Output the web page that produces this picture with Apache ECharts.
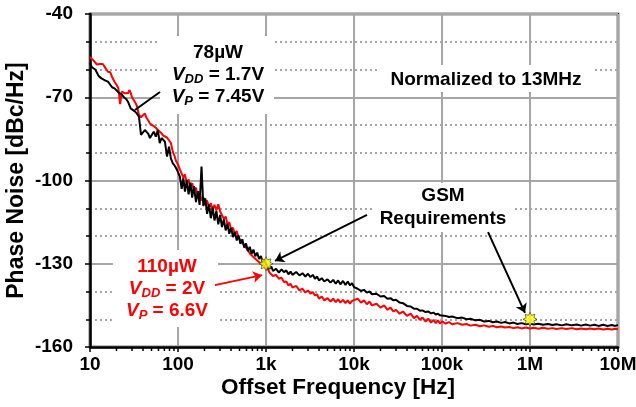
<!DOCTYPE html>
<html>
<head>
<meta charset="utf-8">
<script src="https://cdn.jsdelivr.net/npm/echarts@6/dist/echarts.min.js"></script>
<style>
  html, body { margin: 0; padding: 0; background: #fff; }
  #chart { width: 636px; height: 407px; }
</style>
</head>
<body>
<div id="chart"></div>
<script>
  // offset frequency grid [Hz], one line per decade
  var freqHz = [
    10, 10.5, 11, 11.5, 12, 12.5, 13, 13.5, 14, 15, 16, 17, 18, 19, 20, 21, 22, 23, 24, 25, 26, 27, 28, 29, 30,
    32, 34, 36, 38, 40, 42, 44, 46, 48, 50, 53, 56, 59, 62, 65, 68, 71, 75, 79, 83, 87, 91, 95,
    100, 105, 110, 115, 120, 126, 132, 138, 145, 152, 160, 168, 176, 185, 194, 204, 214, 225, 236, 248,
    260, 273, 287, 301, 316, 332, 348, 365, 383, 402, 422, 443, 465, 488, 512, 538, 565, 593, 622, 653,
    686, 720, 756, 794, 834, 875, 919, 965,
    1000, 1050, 1100, 1150, 1200, 1300, 1400, 1500, 1600, 1700, 1800, 1900, 2000, 2200, 2400, 2600, 2800,
    3000, 3200, 3400, 3600, 3800, 4000, 4300, 4600, 5000, 5400, 5800, 6200, 6600, 7000, 7500, 8000, 8500, 9000, 9500,
    10000, 11000, 12000, 13000, 14000, 15000, 16000, 18000, 20000, 22000, 24000, 26000, 28000, 30000,
    33000, 36000, 40000, 44000, 48000, 52000, 56000, 60000, 65000, 70000, 75000, 80000, 85000, 90000, 95000,
    100000, 110000, 120000, 130000, 150000, 170000, 190000, 210000, 240000, 270000, 300000, 340000, 380000,
    420000, 470000, 520000, 580000, 650000, 720000, 800000, 900000,
    1000000, 1100000, 1250000, 1400000, 1600000, 1800000, 2000000, 2300000, 2600000, 3000000, 3400000,
    3800000, 4300000, 4800000, 5400000, 6000000, 6800000, 7600000, 8500000, 9300000, 10000000
  ];

  // 110uW, VDD = 2V (red)
  var pnRed = [
    -55.5, -56.2, -56.8, -57.5, -58.2, -58.6, -58.0, -57.7, -58.0, -59.5, -60.8, -61.0, -63.0, -64.4, -65.5, -66.8, -72.5, -68.0, -67.6, -68.6, -68.8, -68.6, -67.4, -68.4, -70.0,
    -71.4, -73.0, -76.4, -77.2, -77.0, -75.8, -77.5, -78.4, -79.5, -80.2, -80.4, -81.0, -81.8, -82.3, -83.0, -83.8, -84.2, -84.5, -85.2, -86.5, -89.5, -91.0, -93.0,
    -94.2, -96.0, -95.5, -99.0, -97.8, -101.0, -99.6, -102.4, -101.0, -103.8, -102.6, -105.8, -104.0, -107.2, -106.0, -108.8, -107.2, -109.8, -108.2, -110.4,
    -108.8, -110.8, -108.6, -111.2, -110.6, -113.8, -113.0, -115.8, -115.0, -117.8, -117.0, -119.4, -118.2, -120.6, -120.8, -122.4, -122.2, -124.2, -124.6, -126.2,
    -126.0, -127.6, -127.4, -128.8, -128.6, -130.0, -129.8, -131.0,
    -131.2, -132.0, -133.2, -132.6, -134.4, -134.0, -135.4, -135.0, -136.6, -136.4, -137.8, -137.2, -138.6, -138.0, -139.6, -139.0, -140.4,
    -139.6, -140.8, -140.2, -141.4, -141.0, -142.6, -141.8, -143.2, -142.4, -143.6, -142.6, -143.8, -142.8, -144.0, -143.0, -144.2, -143.2, -144.4, -143.4,
    -144.0, -142.6, -144.0, -143.2, -144.6, -143.6, -145.0, -144.4, -145.8, -145.0, -146.6, -145.8, -147.2, -146.6,
    -148.0, -147.2, -148.8, -148.0, -149.6, -148.8, -150.2, -149.4, -150.8, -149.8, -151.2, -150.2, -151.4, -150.4, -151.6,
    -150.8, -151.6, -151.0, -151.8, -151.4, -152.0, -151.7, -152.3, -152.0, -152.5, -152.2, -152.7, -152.4,
    -152.9, -152.6, -153.0, -152.8, -153.2, -152.9, -153.3, -153.0,
    -153.3, -153.1, -153.4, -153.1, -153.4, -153.2, -153.5, -153.2, -153.5, -153.2, -153.6,
    -153.3, -153.6, -153.3, -153.6, -153.3, -153.7, -153.4, -153.7, -153.4, -153.6
  ];

  // 78uW, VDD = 1.7V (black)
  var pnBlack = [
    -57.7, -59.2, -59.4, -60.0, -61.2, -62.3, -62.8, -63.2, -63.5, -64.0, -64.4, -65.5, -66.5, -66.8, -67.4, -68.2, -68.6, -69.0, -69.8, -70.0, -70.8, -71.6, -72.8, -74.0, -74.5,
    -75.0, -75.8, -77.0, -83.6, -82.9, -81.8, -82.5, -83.2, -84.7, -84.0, -82.4, -84.2, -81.8, -86.5, -84.7, -85.4, -86.0, -91.4, -87.8, -92.0, -93.7, -94.5, -95.5,
    -97.0, -98.6, -103.0, -99.2, -104.0, -100.0, -105.0, -100.8, -106.2, -102.0, -107.8, -103.8, -108.8, -95.0, -109.2, -106.4, -112.0, -108.6, -113.6, -109.8,
    -114.4, -111.0, -115.8, -112.4, -116.8, -114.0, -118.0, -115.6, -119.2, -117.0, -120.4, -118.6, -121.6, -119.8, -122.8, -121.2, -124.2, -122.7, -125.4, -123.9,
    -126.4, -124.9, -127.3, -126.0, -128.3, -127.2, -129.5, -128.7,
    -130.3, -130.6, -131.8, -131.0, -132.6, -131.8, -133.2, -132.0, -133.0, -132.4, -133.8, -132.8, -134.0, -133.0, -134.2, -133.4, -134.6,
    -133.6, -134.8, -134.0, -135.4, -134.6, -136.0, -135.2, -136.4, -135.6, -136.8, -135.8, -137.2, -136.0, -137.4, -136.2, -137.6, -136.4, -137.8, -137.0,
    -138.4, -139.0, -139.8, -139.4, -140.4, -140.0, -141.0, -140.8, -141.8, -141.6, -142.6, -142.4, -143.2, -143.0,
    -144.0, -144.2, -145.2, -145.4, -146.2, -146.2, -146.9, -146.8, -147.4, -147.2, -147.9, -147.6, -148.3, -148.0, -148.6,
    -148.4, -148.8, -149.2, -149.0, -149.6, -149.4, -150.0, -149.8, -150.4, -150.2, -150.8, -150.6, -151.1,
    -150.8, -151.3, -151.0, -151.5, -151.2, -151.7, -151.4, -151.8,
    -151.5, -151.9, -151.6, -152.0, -151.7, -152.1, -151.8, -152.2, -151.8, -152.2, -151.9,
    -152.3, -151.9, -152.3, -152.0, -152.4, -152.0, -152.4, -152.1, -152.4, -152.1
  ];

  // GSM requirement points
  var gsmFreq = [1000, 1000000];
  var gsmPN = [-130, -150];

  var xTickLabels = ['10', '100', '1k', '10k', '100k', '1M', '10M'];

  // minor ticks 20..90 in each decade
  var minorTickFreqs = [];
  for (var d = 10; d < 1e7; d *= 10) {
    for (var k = 2; k <= 9; k++) minorTickFreqs.push(d * k);
  }

  var FONT = '"Liberation Sans", Arial, sans-serif';
  var GRIDC = '#a6a6a6';
  var starPath = 'path://M20,10 L15.54,12.3 L17.07,17.07 L12.3,15.54 L10,20 L7.7,15.54 L2.93,17.07 L4.46,12.3 L0,10 L4.46,7.7 L2.93,2.93 L7.7,4.46 L10,0 L12.3,4.46 L17.07,2.93 L15.54,7.7 Z';

  function pairs(xs, ys) {
    return xs.map(function (x, i) { return [x, ys[i]]; });
  }

  function richFor(color) {
    return {
      b: { fontSize: 19, fontWeight: 'bold', fontFamily: FONT, fill: color, lineHeight: 22 },
      i: { fontSize: 19, fontWeight: 'bold', fontStyle: 'italic', fontFamily: FONT, fill: color, lineHeight: 22 },
      s: { fontSize: 13, fontWeight: 'bold', fontStyle: 'italic', fontFamily: FONT, fill: color, lineHeight: 22, verticalAlign: 'bottom' }
    };
  }

  var chart = echarts.init(document.getElementById('chart'));
  chart.setOption({
    animation: false,
    grid: {
      left: 90, right: 18, top: 14, bottom: 60, containLabel: false, outerBoundsMode: 'none',
      show: true, borderColor: '#000', borderWidth: 2.5
    },
    xAxis: {
      type: 'log', logBase: 10, min: 10, max: 10000000,
      axisLine: { show: true, onZero: false, lineStyle: { color: '#000', width: 2.5 } },
      axisTick: { show: true, length: 5, lineStyle: { color: '#000', width: 1.5 } },
      axisLabel: {
        color: '#000', fontSize: 19, fontWeight: 'bold', fontFamily: FONT, margin: 8,
        formatter: function (v) { return xTickLabels[Math.round(Math.log10(v)) - 1]; }
      },
      splitLine: { show: true, lineStyle: { color: GRIDC, width: 2 } },
      name: 'Offset Frequency [Hz]', nameLocation: 'middle', nameGap: 29, nameMoveOverlap: false,
      nameTextStyle: { color: '#000', fontSize: 22.5, fontWeight: 'bold', fontFamily: FONT, padding: [0, 32, 0, 0] }
    },
    yAxis: {
      type: 'value', min: -160, max: -40, interval: 30,
      axisLine: { show: true, lineStyle: { color: '#000', width: 2.5 } },
      axisTick: { show: true, length: 5, lineStyle: { color: '#000', width: 1.5 } },
      minorTick: { show: true, splitNumber: 3, length: 4, lineStyle: { color: '#000', width: 1.5 } },
      axisLabel: { color: '#000', fontSize: 19, fontWeight: 'bold', fontFamily: FONT, margin: 17 },
      splitLine: { show: true, lineStyle: { color: GRIDC, width: 2 } },
      minorSplitLine: { show: true, lineStyle: { color: GRIDC, width: 2, type: [2, 3] } },
      name: 'Phase Noise [dBc/Hz]', nameLocation: 'middle', nameGap: 62, nameMoveOverlap: false,
      nameTextStyle: { color: '#000', fontSize: 23, fontWeight: 'bold', fontFamily: FONT }
    },
    graphic: [
      { type: 'rect', z: 1, shape: { x: 160, y: 36, width: 114, height: 78 }, style: { fill: '#fff' } },
      { type: 'rect', z: 1, shape: { x: 378, y: 65, width: 217, height: 27 }, style: { fill: '#fff' } },
      { type: 'rect', z: 1, shape: { x: 375, y: 183, width: 138, height: 49 }, style: { fill: '#fff' } },
      { type: 'rect', z: 1, shape: { x: 113, y: 250, width: 105, height: 77 }, style: { fill: '#fff' } },
      {
        type: 'text', z: 5, x: 218, y: 75,
        style: {
          text: '{b|78µW}\n{i|V}{s|DD}{b| = 1.7V}\n{i|V}{s|P}{b| = 7.45V}',
          align: 'center', verticalAlign: 'middle', rich: richFor('#000')
        }
      },
      {
        type: 'text', z: 5, x: 167, y: 289,
        style: {
          text: '{b|110µW}\n{i|V}{s|DD}{b| = 2V}\n{i|V}{s|P}{b| = 6.6V}',
          align: 'center', verticalAlign: 'middle', rich: richFor('#ff0000')
        }
      },
      {
        type: 'text', z: 5, x: 486, y: 80,
        style: { text: 'Normalized to 13MHz', font: 'bold 19px ' + FONT, fill: '#000', align: 'center', verticalAlign: 'middle' }
      },
      {
        type: 'text', z: 5, x: 443, y: 207,
        style: { text: 'GSM\nRequirements', font: 'bold 19px ' + FONT, lineHeight: 23, fill: '#000', align: 'center', verticalAlign: 'middle' }
      }
    ],
    series: [
      {
        name: '110µW', type: 'line', data: pairs(freqHz, pnRed), showSymbol: false, symbol: 'none',
        lineStyle: { color: '#ff0000', width: 2 }, z: 2, silent: true
      },
      {
        name: '78µW', type: 'line', data: pairs(freqHz, pnBlack), showSymbol: false, symbol: 'none',
        lineStyle: { color: '#000', width: 2 }, z: 3, silent: true
      },
      {
        type: 'custom', coordinateSystem: 'cartesian2d', clip: false, silent: true, z: 4,
        data: minorTickFreqs.map(function (f) { return [f, -160]; }),
        renderItem: function (params, api) {
          var p = api.coord([api.value(0), api.value(1)]);
          return { type: 'line', shape: { x1: p[0], y1: p[1], x2: p[0], y2: p[1] + 4 }, style: { stroke: '#000', lineWidth: 1.5 } };
        }
      },
      {
        name: 'GSM', type: 'scatter', data: pairs(gsmFreq, gsmPN), symbol: starPath, symbolSize: 14,
        itemStyle: { color: '#ffff00', borderColor: '#333', borderWidth: 0.8 }, z: 6, silent: true,
        markLine: {
          silent: true, animation: false, symbol: ['none', 'arrow'], symbolSize: 9,
          label: { show: false },
          lineStyle: { color: '#000', width: 2, type: 'solid' },
          data: [
            [{ coord: [14060, -112.4] }, { coord: [1265, -129.0] }],
            [{ coord: [333500, -118.6] }, { coord: [877000, -147.7] }],
            [{ coord: [263, -137.7], lineStyle: { color: '#ff0000' } }, { coord: [901, -134.1], itemStyle: { color: '#ff0000' } }],
            [{ coord: [32.4, -74.6], symbol: 'none' }, { coord: [62.4, -68.1], symbol: 'none' }]
          ]
        }
      }
    ]
  });
</script>
</body>
</html>
